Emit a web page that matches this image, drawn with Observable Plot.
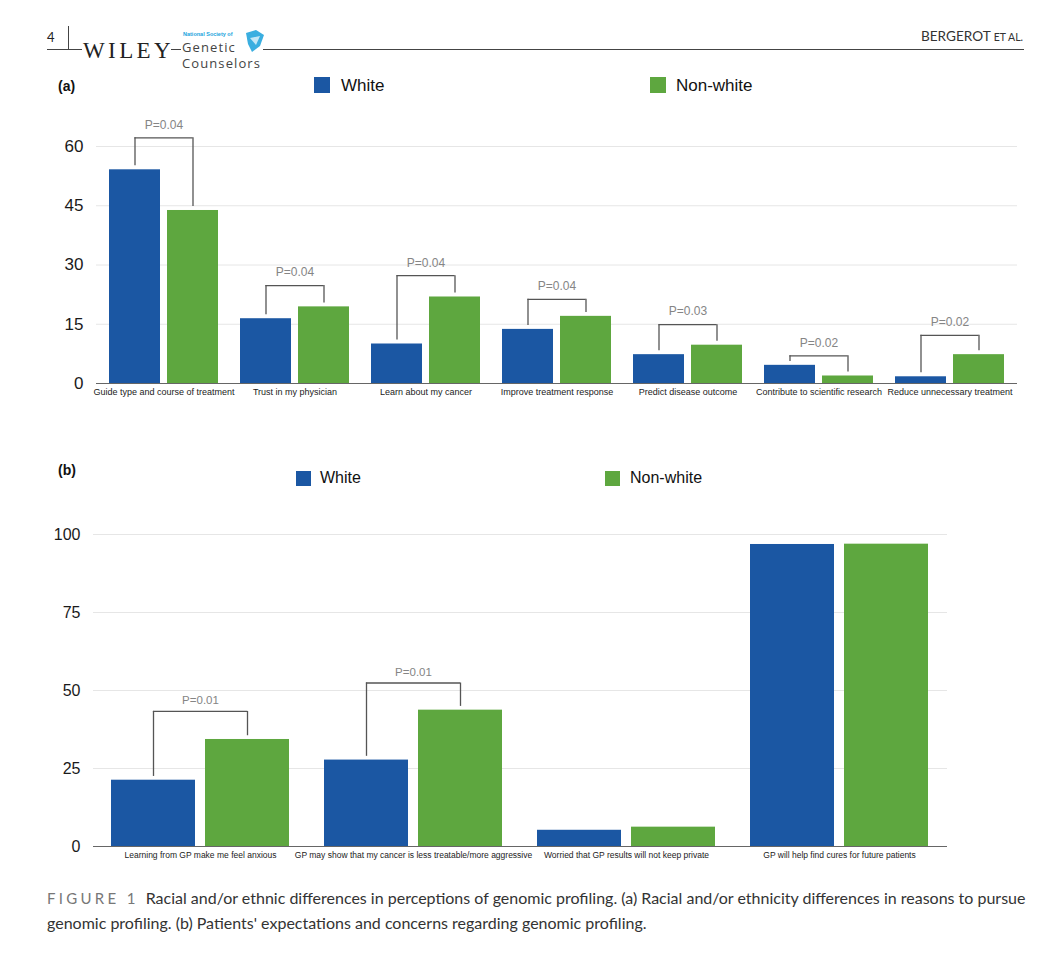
<!DOCTYPE html>
<html>
<head>
<meta charset="utf-8">
<script src="https://cdn.jsdelivr.net/npm/d3@7"></script>
<script src="https://cdn.jsdelivr.net/npm/@observablehq/plot@0.6"></script>
<style>
  html, body { margin: 0; padding: 0; background: #fff; }
  #page { position: relative; width: 1064px; height: 962px; overflow: hidden; background: #fff; }
  .abs { position: absolute; }
  .lab { font-family: "Liberation Sans", Arial, sans-serif; color: #111; white-space: nowrap; line-height: 1; }
  .sw { position: absolute; }
  #caption { position: absolute; left: 47px; top: 886px; font-family: Lato, "Open Sans", sans-serif; font-size: 16px; line-height: 23.5px; color: #333; white-space: nowrap; }
  #caption .fig { color: #777; letter-spacing: 3.3px; font-size: 15px; margin-right: 7px; }
</style>
</head>
<body>
<div id="page">
  <svg class="abs" style="left:0;top:0" width="1064" height="75">
    <text x="47" y="42" font-family="Lato, sans-serif" font-size="13" fill="#222">4</text>
    <line x1="68.5" y1="26" x2="68.5" y2="49.5" stroke="#444" stroke-width="1"/>
    <line x1="47" y1="49.5" x2="82" y2="49.5" stroke="#444" stroke-width="1"/>
    <text x="83" y="57.5" font-family="Liberation Serif, serif" font-size="23" letter-spacing="3.4" fill="#222">WILEY</text>
    <line x1="171" y1="49.5" x2="181" y2="49.5" stroke="#444" stroke-width="1"/>
    <text x="183" y="35.5" font-family="Liberation Sans, sans-serif" font-size="5.5" font-weight="bold" fill="#1aa3dc">National Society of</text>
    <text x="182" y="51.5" font-family="Open Sans, sans-serif" font-size="13" letter-spacing="1.1" fill="#444">Genetic</text>
    <text x="182" y="67.5" font-family="Open Sans, sans-serif" font-size="13" letter-spacing="1.1" fill="#444">Counselors</text>
    <path d="M246 33 L256 30 L264 35 L260 46 L252 52 L248 44 Z" fill="#3aaee0"/>
    <path d="M250 38 L260 36 L256 45 Z" fill="#fff" opacity="0.7"/>
    <line x1="263" y1="49.5" x2="1024" y2="49.5" stroke="#444" stroke-width="1"/>
    <text x="1023" y="41" text-anchor="end" font-family="Lato, sans-serif" font-size="13.6" fill="#333">BERGEROT <tspan font-size="10.5">ET AL.</tspan></text>
  </svg>

  <div class="abs lab" style="left:58px;top:79px;font-size:14px;font-weight:bold;">(a)</div>
  <div class="sw" style="left:314px;top:77px;width:16px;height:16px;background:#1b57a3"></div>
  <div class="abs lab" style="left:341px;top:77px;font-size:17px;">White</div>
  <div class="sw" style="left:650px;top:77px;width:16px;height:16px;background:#5ea73f"></div>
  <div class="abs lab" style="left:676px;top:77px;font-size:17px;">Non-white</div>

  <div class="abs lab" style="left:58px;top:463px;font-size:14px;font-weight:bold;">(b)</div>
  <div class="sw" style="left:296px;top:471px;width:15px;height:15px;background:#1b57a3"></div>
  <div class="abs lab" style="left:320px;top:470px;font-size:16px;">White</div>
  <div class="sw" style="left:605px;top:471px;width:15px;height:15px;background:#5ea73f"></div>
  <div class="abs lab" style="left:630px;top:470px;font-size:16px;">Non-white</div>

  <div id="chartA" class="abs" style="left:0;top:100px;"></div>
  <div id="chartB" class="abs" style="left:0;top:490px;"></div>

  <div id="caption"><span class="fig">FIGURE 1</span>Racial and/or ethnic differences in perceptions of genomic profiling. (a) Racial and/or ethnicity differences in reasons to pursue<br>genomic profiling. (b) Patients' expectations and concerns regarding genomic profiling.</div>
</div>
<script>
// ---------- Data: panel (a) ----------
const catsA = [
  "Guide type and course of treatment",
  "Trust in my physician",
  "Learn about my cancer",
  "Improve treatment response",
  "Predict disease outcome",
  "Contribute to scientific research",
  "Reduce unnecessary treatment"
];
const whiteA    = [54.1, 16.4, 10.0, 13.7, 7.3, 4.6, 1.7];
const nonWhiteA = [43.8, 19.4, 21.9, 17.0, 9.7, 1.9, 7.3];
const pA        = ["P=0.04", "P=0.04", "P=0.04", "P=0.04", "P=0.03", "P=0.02", "P=0.02"];
const bracketA  = [62.2, 24.8, 27.3, 21.3, 14.9, 7.0, 12.2];
const ticksA    = [0, 15, 30, 45, 60];

// ---------- Data: panel (b) ----------
const catsB = [
  "Learning from GP make me feel anxious",
  "GP may show that my cancer is less treatable/more aggressive",
  "Worried that GP results will not keep private",
  "GP will help find cures for future patients"
];
const whiteB    = [21.25, 27.7, 5.2, 96.8];
const nonWhiteB = [34.3, 43.7, 6.2, 96.9];
const pB        = ["P=0.01", "P=0.01", null, null];
const bracketB  = [43.3, 52.4, null, null];
const ticksB    = [0, 25, 50, 75, 100];

const BLUE = "#1b57a3", GREEN = "#5ea73f";
const FONT = "Liberation Sans, Arial, sans-serif";

function panel(opts) {
  const {cats, white, nonWhite, p, bracket, ticks, ymax, width, height, mt, mb, ml, mr,
         padIn, padOut, barW, gapW, gap, tickFont, catFont, pFont, pDy} = opts;
  const rows = cats.map((c, i) => ({cat: c, w: white[i], g: nonWhite[i], p: p[i], b: bracket[i]}));
  const br = rows.filter(d => d.p != null);
  const band = barW * 2 + gapW;
  const off = (barW + gapW) / 2; // distance from band centre to each bar centre
  return Plot.plot({
    width, height,
    marginTop: mt, marginBottom: mb, marginLeft: ml, marginRight: mr,
    style: {fontFamily: FONT, background: "transparent", overflow: "visible"},
    x: {type: "band", domain: cats, paddingInner: padIn, paddingOuter: padOut, label: null, axis: null},
    y: {domain: [0, ymax], label: null, axis: null},
    marks: [
      Plot.gridY(ticks.filter(t => t > 0), {stroke: "#e6e6e6", strokeOpacity: 1}),
      Plot.axisY({ticks, tickSize: 0, tickPadding: 13, fontSize: tickFont, fill: "#1a1a1a", label: null}),
      Plot.axisX({tickSize: 0, tickPadding: 5, fontSize: catFont, fill: "#222", label: null}),
      Plot.barY(rows, {x: "cat", y: "w", fill: BLUE, insetRight: band - barW}),
      Plot.barY(rows, {x: "cat", y: "g", fill: GREEN, insetLeft: band - barW}),
      Plot.ruleY([0], {stroke: "#666", strokeWidth: 1.2}),
      Plot.ruleX(br, {x: "cat", y1: d => d.w + gap, y2: "b", dx: -off, stroke: "#555", strokeWidth: 1.3}),
      Plot.ruleX(br, {x: "cat", y1: d => d.g + gap, y2: "b", dx: off, stroke: "#555", strokeWidth: 1.3}),
      Plot.tickY(br, {x: "cat", y: "b", insetLeft: barW / 2 - 0.6, insetRight: barW / 2 - 0.6, stroke: "#555", strokeWidth: 1.3}),
      Plot.text(br, {x: "cat", y: "b", text: "p", dy: pDy, fontSize: pFont, fill: "#858585"})
    ]
  });
}

document.getElementById("chartA").appendChild(panel({
  cats: catsA, white: whiteA, nonWhite: nonWhiteA, p: pA, bracket: bracketA, ticks: ticksA, ymax: 60,
  width: 1064, height: 310, mt: 46, mb: 27, ml: 96, mr: 47,
  padIn: 0.1654, padOut: 0.078, barW: 52, gapW: 6, gap: 1.0,
  tickFont: 17, catFont: 9, pFont: 12, pDy: -13
}));

document.getElementById("chartB").appendChild(panel({
  cats: catsB, white: whiteB, nonWhite: nonWhiteB, p: pB, bracket: bracketB, ticks: ticksB, ymax: 100,
  width: 1064, height: 383, mt: 44, mb: 27, ml: 93, mr: 117,
  padIn: 0.1624, padOut: 0.081, barW: 85, gapW: 9, gap: 1.2,
  tickFont: 16, catFont: 8.5, pFont: 11.5, pDy: -11
}));
</script>
</body>
</html>
